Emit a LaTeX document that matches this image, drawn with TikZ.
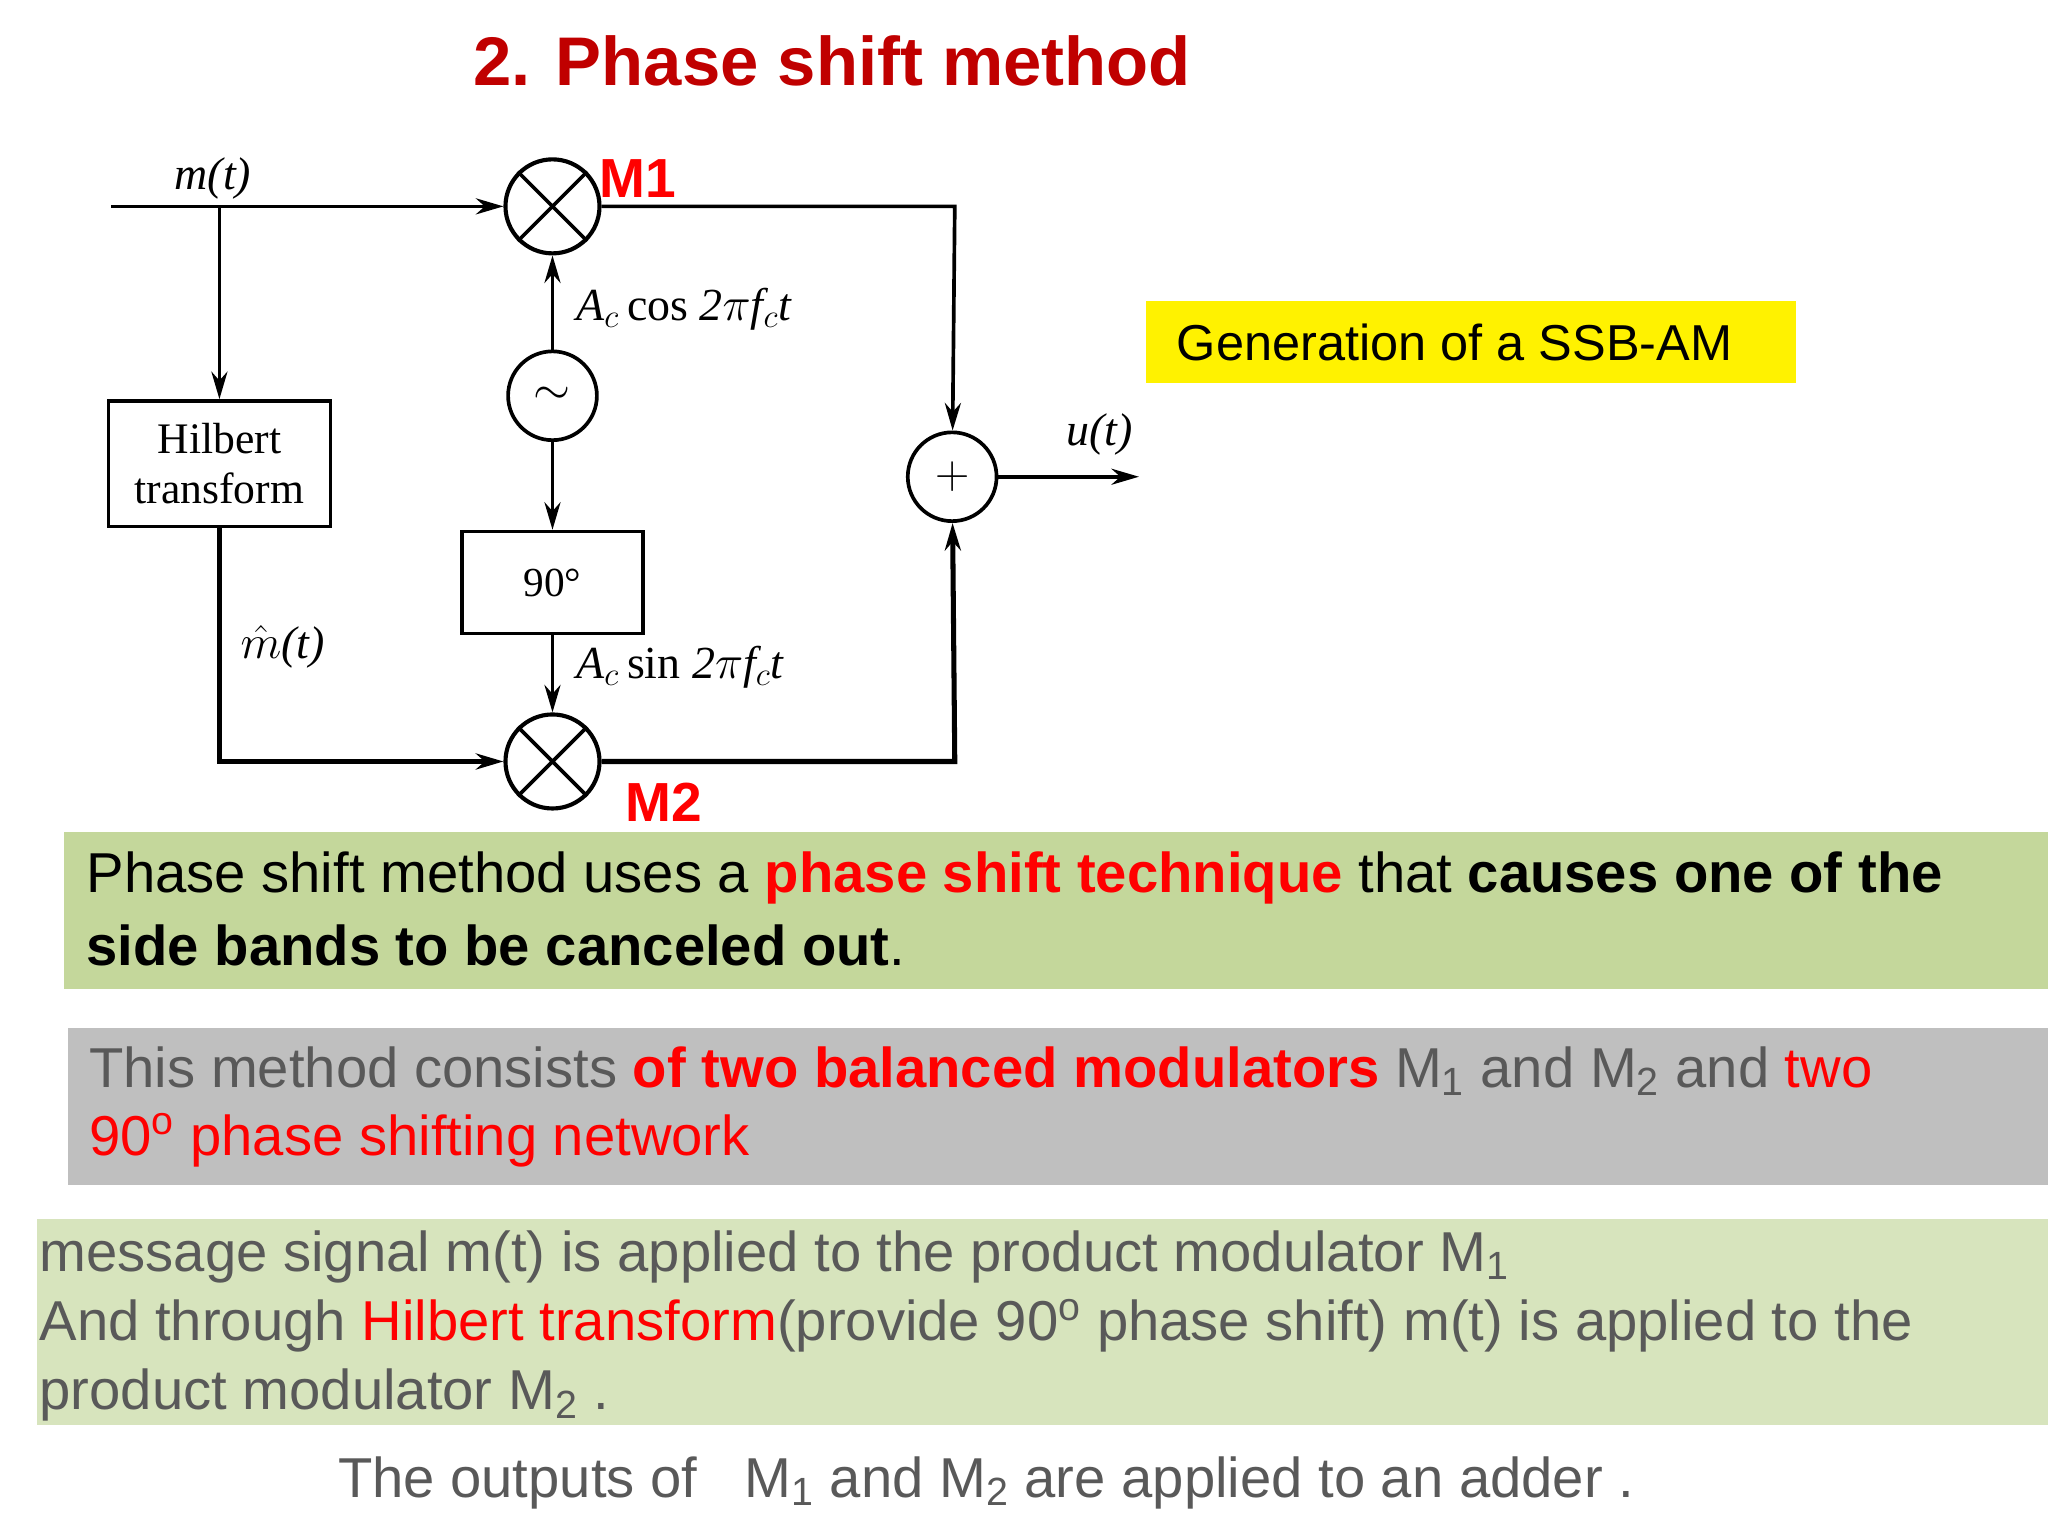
\documentclass[tikz,border=0pt]{standalone}
\usepackage{fontspec}
\setmainfont{Liberation Sans}
\newfontfamily\serif{Liberation Serif}
\usetikzlibrary{arrows.meta}
\definecolor{dred}{HTML}{C00000}
\definecolor{tgray}{HTML}{595959}
\definecolor{bgreen}{HTML}{C4D79B}
\definecolor{lgreen}{HTML}{D7E4BD}
\definecolor{bgray}{HTML}{BFBFBF}
\begin{document}
\begin{tikzpicture}[x=0.02cm,y=-0.02cm,
  ln/.style={line width=1.6pt},
  ar/.style={ln,-{Stealth[length=12pt,width=7pt]}},
  mix/.style={circle,draw,line width=1.8pt,minimum size=1.44cm,inner sep=0pt},
  sm/.style={circle,draw,line width=1.6pt,minimum size=1.36cm,inner sep=0pt},
  blk/.style={draw,line width=1.6pt,inner sep=0pt},
  dl/.style={font=\serif\fontsize{20}{22}\selectfont\itshape},
  ml/.style={text=red,font=\bfseries\fontsize{24}{26}\selectfont},
  body/.style={anchor=west,font=\fontsize{24.5}{30}\selectfont,inner sep=0pt}]
\useasboundingbox (0,0) rectangle (1568,1176);
\node[text=dred,font=\bfseries\fontsize{30}{34}\selectfont] (title) at (637,47) {2. Phase shift method};
% diagram
\node[mix] (m1) at (423,158) {};
\draw[line width=1.6pt] (m1.45)--(m1.225) (m1.135)--(m1.315);
\node[mix] (m2) at (423,583) {};
\draw[line width=1.6pt] (m2.45)--(m2.225) (m2.135)--(m2.315);
\node[sm] (osc) at (423,303) {\fontsize{20}{20}\selectfont$\sim$};
\node[sm] (add) at (729,365) {\fontsize{22}{22}\selectfont$+$};
\node[blk,minimum width=3.4cm,minimum height=1.92cm,align=center,font=\serif\fontsize{19}{22}\selectfont] (hil) at (168,355) {Hilbert\\transform};
\node[blk,minimum width=2.78cm,minimum height=1.56cm,font=\serif\fontsize{18}{20}\selectfont] (ps) at (423,446) {90\textdegree};
\coordinate (in) at (85,158);
\coordinate (br) at (168,158);
\coordinate (c1) at (731,158);
\coordinate (c2) at (731,583);
\coordinate (c3) at (168,583);
\coordinate (out) at (872,365);
\draw[ar] (in)--(m1);
\draw[ar] (br)--(hil.north);
\draw[ar,line width=2.4pt] (hil.south)--(c3)--(m2);
\draw[ar] (osc)--(m1);
\draw[ar] (osc)--(ps);
\draw[ar] (ps)--(m2);
\draw[ar] (m1)--(c1)--(add);
\draw[ar,line width=2.2pt] (m2)--(c2)--(add);
\draw[ar] (add)--(out);
\node[dl] (lm) at (163,137) {m(t)};
\node[dl,anchor=west] (lmh) at (178,495) {$\hat{m}$(t)};
\node[dl] (lu) at (842,333) {u(t)};
\node[dl,anchor=west] (lcos) at (435,237) {A$_c$\,\upshape cos \itshape 2$\pi$f$_c$t};
\node[dl,anchor=west] (lsin) at (435,511) {A$_c$\,\upshape sin \itshape 2$\pi$f$_c$t};
\node[ml] (lm1) at (488,137) {M1};
\node[ml] (lm2) at (508,614) {M2};
% yellow
\node[fill=yellow,minimum width=9.96cm,minimum height=1.26cm,font=\fontsize{22}{26}\selectfont,anchor=north west,inner sep=0pt] (gen) at (877,230) {\hspace*{-0.5cm}Generation of a SSB-AM};
% boxes
\fill[bgreen] (49,637) rectangle (1568,757);
\fill[bgray] (52,787) rectangle (1568,907);
\fill[lgreen] (28,933) rectangle (1568,1091);
\node[body] (t1) at (66,672) {Phase shift method uses a \textcolor{red}{\bfseries phase shift technique} that \textbf{causes one of the}};
\node[body] (t2) at (66,724) {\bfseries side bands to be canceled out\mdseries.};
\node[body,text=tgray] (t3) at (68,820) {This method consists \textcolor{red}{\bfseries of two balanced modulators} M\textsubscript{1} and M\textsubscript{2} and \textcolor{red}{two}};
\node[body,text=red] (t4) at (68,873) {90\textsuperscript{o} phase shifting network};
\node[body,text=tgray] (t5) at (30,962) {message signal m(t) is applied to the product modulator M\textsubscript{1}};
\node[body,text=tgray] (t6) at (30,1015) {And through \textcolor{red}{Hilbert transform}(provide 90\textsuperscript{o} phase shift) m(t) is applied to the};
\node[body,text=tgray] (t7) at (30,1068) {product modulator M\textsubscript{2} .};
\node[body,text=tgray,anchor=center] (t8) at (755,1135) {The outputs of \ \ M\textsubscript{1} and M\textsubscript{2} are applied to an adder .};
\end{tikzpicture}
\end{document}
